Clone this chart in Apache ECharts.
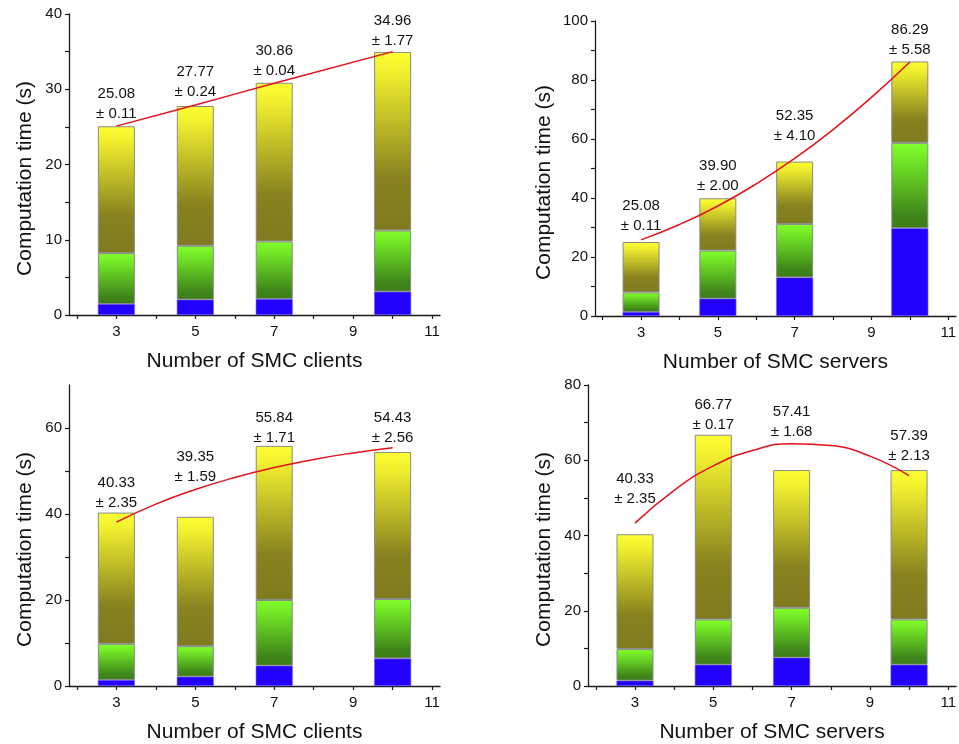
<!DOCTYPE html>
<html><head><meta charset="utf-8">
<script src="https://cdn.jsdelivr.net/npm/echarts@6/dist/echarts.min.js"></script>
<style>html,body{margin:0;padding:0;background:#fff}#c{width:959px;height:744px}</style>
</head><body><div id="c"></div>
<script>
// ---------- DATA ----------
const barX = [3, 5, 7, 10];
const xTickValues = [2, 3, 4, 5, 6, 7, 8, 9, 10, 11];
const xTickLabels = [3, 5, 7, 9, 11];

// Panel A: number of SMC clients (top-left)
const aBlue  = [1.46, 2.04, 2.12, 3.10];
const aGreen = [6.77, 7.16, 7.66, 8.14];
const aTotal = [25.08, 27.77, 30.86, 34.96];
const aErr   = [0.11, 0.24, 0.04, 1.77];
const aFitX  = [3, 5, 7, 10];
const aFitY  = [25.1, 27.9, 30.8, 35.0];
const aYTicks = [0, 5, 10, 15, 20, 25, 30, 35, 40];
const aYLabels = [0, 10, 20, 30, 40];

// Panel B: number of SMC servers (top-right)
const bBlue  = [1.35, 5.86, 13.08, 29.76];
const bGreen = [6.65, 16.34, 18.12, 28.94];
const bTotal = [25.08, 39.90, 52.35, 86.29];
const bErr   = [0.11, 2.00, 4.10, 5.58];
const bFitX  = [3, 4, 5, 6, 7, 8, 9, 10];
const bFitY  = [25.8, 31.0, 37.3, 44.8, 53.4, 63.2, 74.1, 86.1];
const bYTicks = [0, 10, 20, 30, 40, 50, 60, 70, 80, 90, 100];
const bYLabels = [0, 20, 40, 60, 80, 100];

// Panel C: number of SMC clients (bottom-left)
const cBlue  = [1.39, 2.16, 4.71, 6.41];
const cGreen = [8.41, 7.11, 15.29, 13.82];
const cTotal = [40.33, 39.35, 55.84, 54.43];
const cErr   = [2.35, 1.59, 1.71, 2.56];
const cFitX  = [3, 4, 5, 6, 7, 8, 9, 10];
const cFitY  = [38.1, 42.3, 45.7, 48.5, 50.8, 52.7, 54.2, 55.4];
const cYTicks = [0, 10, 20, 30, 40, 50, 60];
const cYLabels = [0, 20, 40, 60];

// Panel D: number of SMC servers (bottom-right)
const dBlue  = [1.41, 5.66, 7.52, 5.66];
const dGreen = [8.40, 12.02, 13.26, 12.02];
const dTotal = [40.33, 66.77, 57.41, 57.39];
const dErr   = [2.35, 0.17, 1.68, 2.13];
const dFitX  = [3, 4, 5, 6, 7, 8, 9, 10];
const dFitY  = [43.3, 52.0, 58.5, 62.6, 64.4, 63.9, 61.1, 55.9];
const dYTicks = [0, 10, 20, 30, 40, 50, 60, 70, 80];
const dYLabels = [0, 20, 40, 60, 80];

// ---------- LAYOUT ----------
const panels = [
  {grid:{left:69, top:14, width:371, height:301}, yMax:40, xName:'Number of SMC clients', yNameGap:33,
   blue:aBlue, green:aGreen, total:aTotal, err:aErr, fitX:aFitX, fitY:aFitY, yTicks:aYTicks, yLabels:aYLabels,
   labelGap:[12, 14, 12, 11]},
  {grid:{left:595, top:21, width:366, height:295}, yMax:100, xName:'Number of SMC servers', yNameGap:40,
   blue:bBlue, green:bGreen, total:bTotal, err:bErr, fitX:bFitX, fitY:bFitY, yTicks:bYTicks, yLabels:bYLabels,
   labelGap:[16, 12, 26, 12]},
  {grid:{left:69, top:385, width:371, height:302}, yMax:70, xName:'Number of SMC clients', yNameGap:33,
   blue:cBlue, green:cGreen, total:cTotal, err:cErr, fitX:cFitX, fitY:cFitY, yTicks:cYTicks, yLabels:cYLabels,
   labelGap:[10, 40, 8, 14]},
  {grid:{left:588, top:385, width:373, height:302}, yMax:80, xName:'Number of SMC servers', yNameGap:33,
   blue:dBlue, green:dGreen, total:dTotal, err:dErr, fitX:dFitX, fitY:dFitY, yTicks:dYTicks, yLabels:dYLabels,
   labelGap:[35, 10, 38, 14]}
];

const FONT = 'Liberation Sans, Arial, sans-serif';
const AXIS_COLOR = '#1a1a1a';
const blueColor = '#2200fb';
const greenGrad = {type:'linear', x:0, y:0, x2:0, y2:1, colorStops:[
  {offset:0, color:'#80ff2a'}, {offset:0.15, color:'#76ee27'}, {offset:0.85, color:'#3f861a'}, {offset:1, color:'#3b7d18'}]};
const yellowGrad = {type:'linear', x:0, y:0, x2:0, y2:1, colorStops:[
  {offset:0, color:'#ffff33'}, {offset:0.12, color:'#f0ef2e'}, {offset:0.7, color:'#88831f'}, {offset:1, color:'#7f7a1e'}]};

const option = {animation:false, backgroundColor:'#fff', grid:[], xAxis:[], yAxis:[], series:[]};

panels.forEach((p, i) => {
  option.grid.push(Object.assign({containLabel:false}, p.grid));
  option.xAxis.push({
    type:'value', gridIndex:i, min:1.8, max:11.2,
    name:p.xName, nameLocation:'middle', nameGap:36,
    nameTextStyle:{fontSize:21, color:'#111', fontFamily:FONT},
    axisLine:{show:true, lineStyle:{color:AXIS_COLOR, width:1.3}},
    axisTick:{show:true, inside:false, length:4, customValues:xTickValues, lineStyle:{color:AXIS_COLOR, width:1.2}},
    axisLabel:{customValues:xTickLabels, fontSize:15, color:'#111', fontFamily:FONT, margin:9},
    splitLine:{show:false}
  });
  option.yAxis.push({
    type:'value', gridIndex:i, min:0, max:p.yMax,
    name:'Computation time (s)', nameLocation:'middle', nameGap:p.yNameGap,
    nameTextStyle:{fontSize:21, color:'#111', fontFamily:FONT, padding:[0, 28, 0, 0]},
    axisLine:{show:true, lineStyle:{color:AXIS_COLOR, width:1.3}},
    axisTick:{show:true, inside:false, length:4, customValues:p.yTicks, lineStyle:{color:AXIS_COLOR, width:1.2}},
    axisLabel:{customValues:p.yLabels, fontSize:15, color:'#111', fontFamily:FONT, margin:7},
    splitLine:{show:false}
  });
  const stack = 'st' + i;
  // data rows are [value, x]; encode maps them so the value dimension is stacked
  const enc = {x:1, y:0};
  option.series.push({
    type:'bar', xAxisIndex:i, yAxisIndex:i, stack:stack, barWidth:37, encode:enc,
    itemStyle:{color:blueColor, borderColor:'#6f62ff', borderWidth:0.6},
    data:barX.map((x, k) => [p.blue[k], x])
  });
  option.series.push({
    type:'bar', xAxisIndex:i, yAxisIndex:i, stack:stack, barWidth:37, encode:enc,
    itemStyle:{color:greenGrad, borderColor:'#8a8a8a', borderWidth:1},
    data:barX.map((x, k) => [p.green[k], x])
  });
  option.series.push({
    type:'bar', xAxisIndex:i, yAxisIndex:i, stack:stack, barWidth:37, encode:enc,
    itemStyle:{color:yellowGrad, borderColor:'#8a8a8a', borderWidth:1},
    data:barX.map((x, k) => ({
      value:[+(p.total[k] - p.blue[k] - p.green[k]).toFixed(2), x],
      label:{distance:p.labelGap[k] - 10}
    })),
    label:{show:true, position:'top', fontSize:15, lineHeight:20, color:'#111', fontFamily:FONT,
      formatter:(prm) => p.total[prm.dataIndex].toFixed(2) + '\n\u00b1 ' + p.err[prm.dataIndex].toFixed(2)}
  });
  option.series.push({
    type:'line', xAxisIndex:i, yAxisIndex:i, smooth:true, showSymbol:false, symbol:'none', z:5,
    lineStyle:{color:'#e3121a', width:1.5},
    data:p.fitX.map((x, k) => [x, p.fitY[k]])
  });
});

const chart = echarts.init(document.getElementById('c'), null, {renderer:'canvas'});
chart.setOption(option);
</script>
</body></html>
